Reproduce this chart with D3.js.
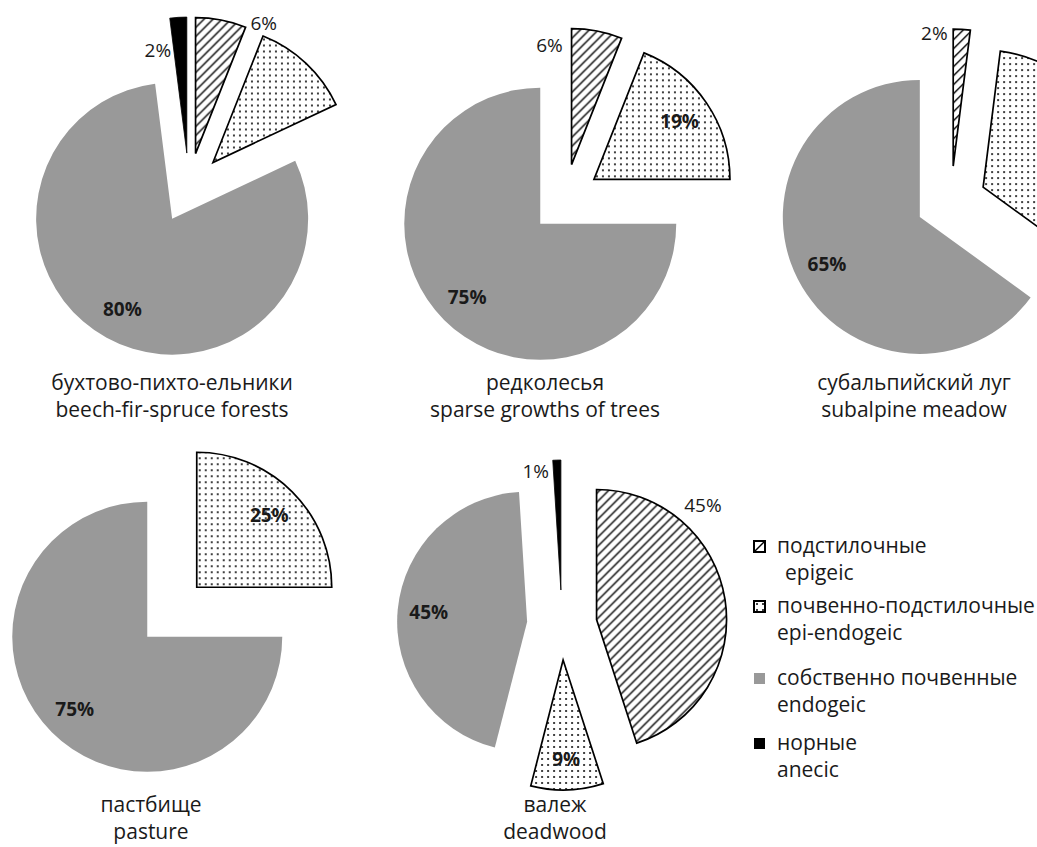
<!DOCTYPE html>
<html>
<head>
<meta charset="utf-8">
<script src="https://cdn.jsdelivr.net/npm/d3@7"></script>
<style>
  html, body { margin: 0; padding: 0; background: #fff; }
  svg { display: block; }
  text { font-family: "Open Sans", "Noto Sans", sans-serif; fill: #1a1a1a; }
</style>
</head>
<body>
<svg id="chart" width="1037" height="847"></svg>
<script>
// ---------- DATA ----------
const categories = ["epigeic", "epi-endogeic", "endogeic", "anecic"];
const legendRu = ["подстилочные", "почвенно-подстилочные", "собственно почвенные", "норные"];
const legendEn = ["epigeic", "epi-endogeic", "endogeic", "anecic"];

const habitatRu = ["бухтово-пихто-ельники", "редколесья", "субальпийский луг", "пастбище", "валеж"];
const habitatEn = ["beech-fir-spruce forests", "sparse growths of trees", "subalpine meadow", "pasture", "deadwood"];

// percentage shares per habitat (same order as habitats)
const epigeic     = [6, 6, 2, 0, 45];
const epiEndogeic = [12, 19, 33, 25, 9];
const endogeic    = [80, 75, 65, 75, 45];
const anecic      = [2, 0, 0, 0, 1];

// which values carry a printed label: "in" = bold inside, "out" = plain outside, null = none
const labelEpigeic     = ["out", "out", "out", null, "out"];
const labelEpiEndogeic = [null, "in", null, "in", "in"];
const labelEndogeic    = ["in", "in", "in", "in", "in"];
const labelAnecic      = ["out", null, null, null, "out"];

// ---------- LAYOUT (style, not data) ----------
const pieLayout = [
  { cx: 189, cy: 188, r: 136, tx: 172, ty: 383 },
  { cx: 565, cy: 199, r: 136, tx: 545, ty: 383 },
  { cx: 951, cy: 201, r: 137, tx: 914, ty: 383 },
  { cx: 172, cy: 612, r: 135, tx: 151, ty: 805 },
  { cx: 562, cy: 625, r: 130, tx: 555, ty: 805 }
];
const explode = 35;
// outside label placement relative to slice vertex: [angle deg, distance px]
const outsidePos = {
  "0-0": [27.6, 147], "0-3": [-15.7, 107],
  "1-0": [-10.4, 122],
  "2-0": [-8.1, 134],
  "4-0": [43, 156], "4-3": [-11.9, 122]
};

const svg = d3.select("#chart");
const defs = svg.append("defs");

// hatch pattern
const hs = 9;
const hatch = defs.append("pattern").attr("id", "hatch")
  .attr("patternUnits", "userSpaceOnUse").attr("width", hs).attr("height", hs);
hatch.append("rect").attr("width", hs).attr("height", hs).attr("fill", "#fff");
hatch.append("path").attr("d", `M-2,2 L2,-2 M0,${hs} L${hs},0 M${hs - 2},${hs + 2} L${hs + 2},${hs - 2}`)
  .attr("stroke", "#000").attr("stroke-width", 1.4);

// dots pattern
const dots = defs.append("pattern").attr("id", "dots")
  .attr("patternUnits", "userSpaceOnUse").attr("width", 6).attr("height", 6);
dots.append("rect").attr("width", 6).attr("height", 6).attr("fill", "#fff");
dots.append("circle").attr("cx", 3).attr("cy", 3).attr("r", 1).attr("fill", "#000");

const fills = { "epigeic": "url(#hatch)", "epi-endogeic": "url(#dots)", "endogeic": "#999999", "anecic": "#000" };
const strokes = { "epigeic": "#000", "epi-endogeic": "#000", "endogeic": "none", "anecic": "#000" };

const series = [epigeic, epiEndogeic, endogeic, anecic];
const labelKinds = [labelEpigeic, labelEpiEndogeic, labelEndogeic, labelAnecic];

const pie = d3.pie().sort(null).value(d => d.value).startAngle(0).endAngle(2 * Math.PI);

habitatRu.forEach((name, i) => {
  const L = pieLayout[i];
  const data = categories.map((c, k) => ({ cat: c, k, value: series[k][i], label: labelKinds[k][i] }));
  const arcs = pie(data).filter(a => a.data.value > 0);
  const arc = d3.arc().innerRadius(0).outerRadius(L.r);
  const labelArc = d3.arc().innerRadius(0).outerRadius(L.r * 1.52);

  const g = svg.append("g").attr("transform", `translate(${L.cx},${L.cy})`);

  const sg = g.selectAll("g.slice").data(arcs).join("g").attr("class", "slice")
    .attr("transform", d => {
      const [x, y] = d3.pointRadial((d.startAngle + d.endAngle) / 2, explode);
      return `translate(${x},${y})`;
    });

  sg.append("path")
    .attr("d", arc)
    .attr("fill", d => fills[d.data.cat])
    .attr("stroke", d => strokes[d.data.cat])
    .attr("stroke-width", d => d.data.cat === "anecic" ? 0.8 : 1.7)
    .attr("stroke-linejoin", "miter");

  sg.filter(d => d.data.label).append("text")
    .attr("transform", d => {
      let p;
      if (d.data.label === "in") p = labelArc.centroid(d);
      else {
        const o = outsidePos[i + "-" + d.data.k];
        p = d3.pointRadial(o[0] * Math.PI / 180, o[1]);
      }
      return `translate(${p[0]},${p[1]})`;
    })
    .attr("text-anchor", "middle")
    .attr("dominant-baseline", "central")
    .attr("font-size", 19)
    .attr("font-weight", d => d.data.label === "in" ? 700 : 400)
    .text(d => d.data.value + "%");

  // two-line title as one text element
  const t = svg.append("text").attr("text-anchor", "middle").attr("font-size", 21);
  t.append("tspan").attr("x", L.tx).attr("y", L.ty + 7).text(name);
  t.append("tspan").attr("x", L.tx).attr("dy", 27).text(habitatEn[i]);
});

// ---------- LEGEND ----------
const legendRows = [546, 606, 678, 743];
const lg = svg.append("g");
categories.forEach((c, k) => {
  const y = legendRows[k];
  const sw = lg.append("g").attr("transform", `translate(754,${y - 5})`);
  if (c === "epigeic") {
    sw.append("rect").attr("width", 11).attr("height", 11).attr("fill", "#fff").attr("stroke", "#000").attr("stroke-width", 2);
    sw.append("line").attr("x1", 0).attr("y1", 11).attr("x2", 11).attr("y2", 0).attr("stroke", "#000").attr("stroke-width", 1.5);
  } else if (c === "epi-endogeic") {
    sw.append("rect").attr("width", 11).attr("height", 11).attr("fill", "url(#dots)").attr("stroke", "#000").attr("stroke-width", 2);
  } else {
    sw.append("rect").attr("width", 11).attr("height", 11).attr("fill", fills[c]);
  }
  const t = lg.append("text").attr("font-size", 21);
  t.append("tspan").attr("x", 777).attr("y", y + 7).text(legendRu[k]);
  t.append("tspan").attr("x", c === "epigeic" ? 785 : 777).attr("dy", 27).text(legendEn[k]);
});
</script>
</body>
</html>
